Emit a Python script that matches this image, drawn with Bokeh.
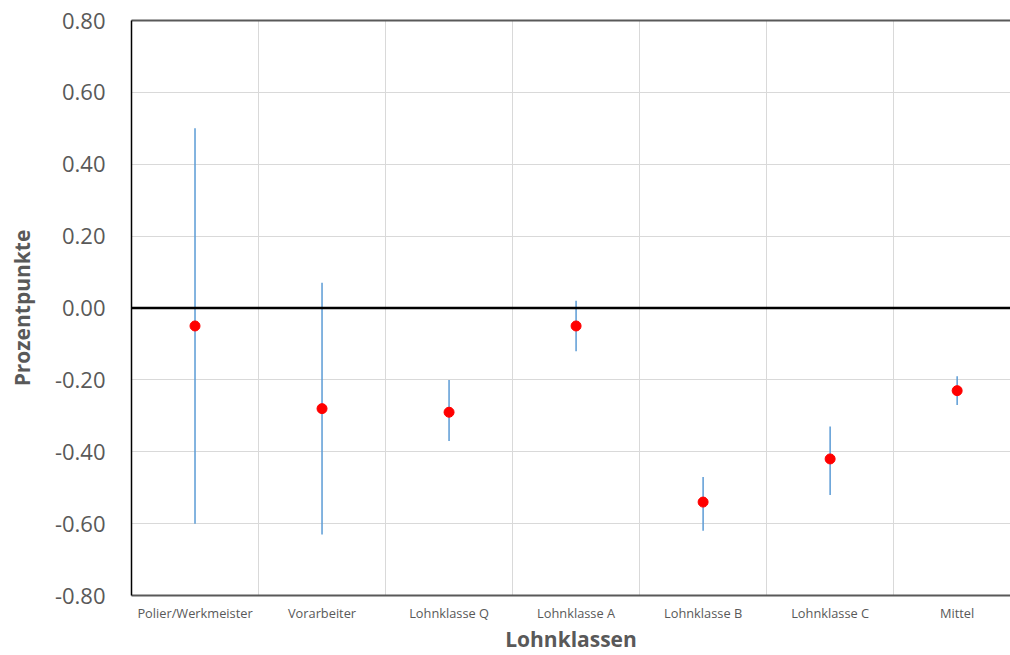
from bokeh.plotting import figure
from bokeh.models import Span, FixedTicker, LinearAxis, Range1d, ColumnDataSource, NumeralTickFormatter
from bokeh.embed import file_html
from bokeh.resources import INLINE

categories = ["Polier/Werkmeister", "Vorarbeiter", "Lohnklasse Q", "Lohnklasse A",
              "Lohnklasse B", "Lohnklasse C", "Mittel"]
estimate = [-0.05, -0.28, -0.29, -0.05, -0.54, -0.42, -0.23]
upper = [0.50, 0.07, -0.20, 0.02, -0.47, -0.33, -0.19]
lower = [-0.60, -0.63, -0.37, -0.12, -0.62, -0.52, -0.27]
y_ticks = [-0.8, -0.6, -0.4, -0.2, 0.0, 0.2, 0.4, 0.6, 0.8]

xpos = [i + 0.5 for i in range(len(categories))]
src = ColumnDataSource(dict(x=xpos, est=estimate, lo=lower, hi=upper))

FONT = "Open Sans"
GREY = "#595959"

p = figure(width=1010, height=655, output_backend="svg", toolbar_location=None,
           x_range=Range1d(0, 6.92), y_range=Range1d(-0.8, 0.8),
           min_border_left=131, min_border_bottom=60, min_border_top=20, min_border_right=0)
p.outline_line_color = None
p.background_fill_color = "white"
p.border_fill_color = "white"

# grid
p.xgrid.ticker = FixedTicker(ticks=[1, 2, 3, 4, 5, 6, 7])
p.xgrid.grid_line_color = "#D9D9D9"
p.ygrid.ticker = FixedTicker(ticks=y_ticks)
p.ygrid.grid_line_color = "#D9D9D9"

# x axis
xa = p.xaxis[0]
xa.ticker = FixedTicker(ticks=xpos)
xa.major_label_overrides = {x: c for x, c in zip(xpos, categories)}
xa.major_label_text_font = FONT
xa.major_label_text_font_size = "12.8px"
xa.major_label_text_color = GREY
xa.major_tick_line_color = None
xa.minor_tick_line_color = None
xa.axis_line_color = GREY
xa.axis_line_width = 2
xa.major_label_standoff = 2
xa.axis_label = "Lohnklassen"
xa.axis_label_text_font = FONT
xa.axis_label_text_font_size = "21px"
xa.axis_label_text_font_style = "bold"
xa.axis_label_text_color = GREY
xa.axis_label_standoff = 0

# y axis
ya = p.yaxis[0]
ya.ticker = FixedTicker(ticks=y_ticks)
ya.formatter = NumeralTickFormatter(format="0.00")
ya.major_label_text_font = FONT
ya.major_label_text_font_size = "22px"
ya.major_label_text_color = GREY
ya.major_tick_line_color = None
ya.minor_tick_line_color = None
ya.axis_line_color = "black"
ya.axis_line_width = 1.5
ya.major_label_standoff = 20
ya.axis_label = "Prozentpunkte"
ya.axis_label_text_font = FONT
ya.axis_label_text_font_size = "21px"
ya.axis_label_text_font_style = "bold"
ya.axis_label_text_color = GREY
ya.axis_label_standoff = 16

# top border line
top = LinearAxis(ticker=FixedTicker(ticks=[]), axis_line_color=GREY, axis_line_width=2,
                 major_tick_line_color=None, minor_tick_line_color=None,
                 major_label_text_font_size="0px")
p.add_layout(top, "above")

# zero line
p.add_layout(Span(location=0, dimension="width", line_color="black", line_width=2.5))

# error bars and points
p.segment(x0="x", y0="lo", x1="x", y1="hi", source=src, line_color="#5B9BD5", line_width=1.5)
p.scatter(x="x", y="est", source=src, size=10, fill_color="#FF0000", line_color="#FF0000")

open("out.html", "w").write(file_html(p, INLINE))
